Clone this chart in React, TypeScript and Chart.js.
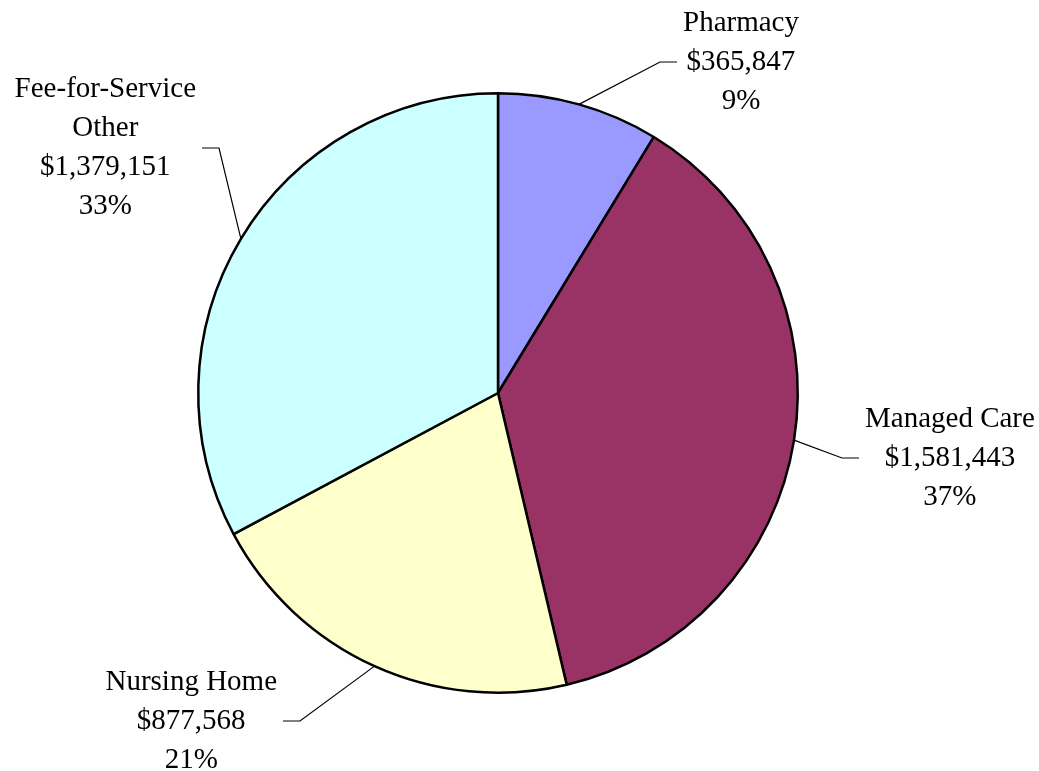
import React, { useEffect, useRef } from "react";
import { Chart, registerables } from "chart.js";

Chart.register(...registerables);

const categories = ["Pharmacy", "Managed Care", "Nursing Home", "Fee-for-Service Other"];
const labelLines = [["Pharmacy"], ["Managed Care"], ["Nursing Home"], ["Fee-for-Service", "Other"]];
const amounts = [365847, 1581443, 877568, 1379151];
const percentLabels = ["9%", "37%", "21%", "33%"];
const colors = ["#9999FF", "#993366", "#FFFFCC", "#CCFFFF"];

// leader-line elbow offsets relative to pie centre (layout only)
const elbowOffsets = [
  [162, -331],
  [344, 65],
  [-198, 328],
  [-279, -245],
];

const FONT = '29px "Liberation Serif", "Times New Roman", serif';
const LINE_H = 39;

const fmt = (v: number) => "$" + v.toLocaleString("en-US");

const labelPlugin = {
  id: "leaderLabels",
  afterDraw(chart: any) {
    const ctx = chart.ctx;
    const meta = chart.getDatasetMeta(0);
    ctx.save();
    meta.data.forEach((arc: any, i: number) => {
      const { x, y, startAngle, endAngle, outerRadius } = arc.getProps(
        ["x", "y", "startAngle", "endAngle", "outerRadius"],
        true
      );
      const mid = (startAngle + endAngle) / 2;
      const sx = x + Math.cos(mid) * outerRadius;
      const sy = y + Math.sin(mid) * outerRadius;
      const ex = x + elbowOffsets[i][0];
      const ey = y + elbowOffsets[i][1];
      const right = ex > x;
      const hx = ex + (right ? 17 : -17);
      ctx.strokeStyle = "#000";
      ctx.lineWidth = 1.2;
      ctx.beginPath();
      ctx.moveTo(sx, sy);
      ctx.lineTo(ex, ey);
      ctx.lineTo(hx, ey);
      ctx.stroke();

      const lines = [...labelLines[i], fmt(amounts[i]), percentLabels[i]];
      ctx.font = FONT;
      const maxW = Math.max(...lines.map((l) => ctx.measureText(l).width));
      const gap = 6;
      const cx = right ? hx + gap + maxW / 2 : hx - gap - maxW / 2;
      const top = ey - ((lines.length - 1) * LINE_H) / 2;
      ctx.fillStyle = "#000";
      ctx.textAlign = "center";
      ctx.textBaseline = "middle";
      lines.forEach((l, k) => ctx.fillText(l, cx, top + k * LINE_H));
    });
    ctx.restore();
  },
};

export default function App() {
  const ref = useRef<HTMLCanvasElement>(null);
  useEffect(() => {
    if (!ref.current) return;
    const chart = new Chart(ref.current, {
      type: "pie",
      data: {
        labels: categories,
        datasets: [
          {
            data: amounts,
            backgroundColor: colors,
            borderColor: "#000",
            borderWidth: 2.5,
          },
        ],
      },
      options: {
        responsive: false,
        animation: false,
        layout: { padding: { top: 92, bottom: 77, left: 197, right: 240 } },
        plugins: {
          legend: { display: false },
          tooltip: { enabled: false },
        },
      },
      plugins: [labelPlugin],
    });
    return () => chart.destroy();
  }, []);
  return (
    <div style={{ position: "fixed", left: 0, top: 0, width: 1039, height: 771, background: "#fff" }}>
      <canvas ref={ref} width={1039} height={771} />
    </div>
  );
}
